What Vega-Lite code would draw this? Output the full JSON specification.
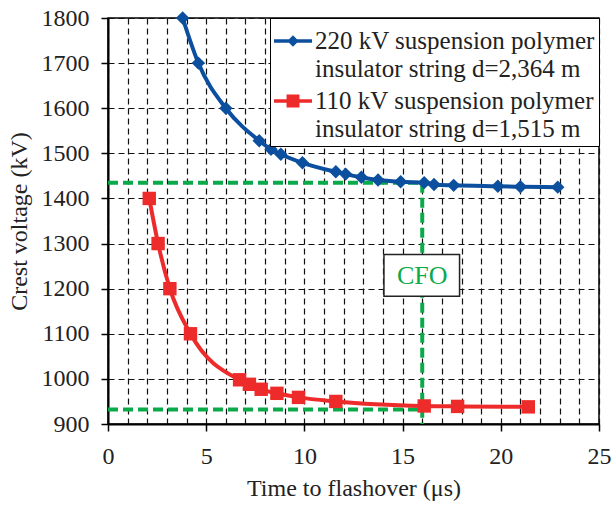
{
  "$schema": "https://vega.github.io/schema/vega-lite/v6.json",
  "width": 491,
  "height": 406,
  "autosize": {"type": "none"},
  "padding": {"left": 108, "top": 18, "right": 15, "bottom": 82},
  "background": "white",
  "config": {
    "font": "Liberation Serif",
    "view": {"stroke": "#000", "strokeWidth": 1.5},
    "axis": {
      "labelFont": "Liberation Serif",
      "titleFont": "Liberation Serif",
      "labelFontSize": 24,
      "titleFontSize": 24,
      "labelColor": "#222",
      "titleColor": "#222",
      "titleFontWeight": "normal",
      "domainColor": "#000",
      "domainWidth": 2,
      "tickColor": "#000",
      "tickWidth": 1.5,
      "tickSize": 7,
      "gridColor": "#111",
      "gridDash": [6, 4],
      "gridWidth": 1.2,
      "gridOpacity": 1,
      "labelOverlap": false
    },
    "legend": {
      "labelFont": "Liberation Serif",
      "labelFontSize": 25,
      "labelColor": "#222",
      "labelLimit": 0
    }
  },
  "datasets": {
    "series": [
      {"t": 3.8, "v": 1800, "s": "220 kV"},
      {"t": 4.6, "v": 1700, "s": "220 kV"},
      {"t": 6.0, "v": 1600, "s": "220 kV"},
      {"t": 7.7, "v": 1528, "s": "220 kV"},
      {"t": 8.3, "v": 1509, "s": "220 kV"},
      {"t": 8.8, "v": 1498, "s": "220 kV"},
      {"t": 9.9, "v": 1479, "s": "220 kV"},
      {"t": 11.6, "v": 1459, "s": "220 kV"},
      {"t": 12.1, "v": 1454, "s": "220 kV"},
      {"t": 12.9, "v": 1447, "s": "220 kV"},
      {"t": 13.75, "v": 1441, "s": "220 kV"},
      {"t": 14.9, "v": 1437, "s": "220 kV"},
      {"t": 16.1, "v": 1435, "s": "220 kV"},
      {"t": 16.6, "v": 1431, "s": "220 kV"},
      {"t": 17.6, "v": 1429, "s": "220 kV"},
      {"t": 19.85, "v": 1427, "s": "220 kV"},
      {"t": 21.0, "v": 1426, "s": "220 kV"},
      {"t": 22.9, "v": 1425, "s": "220 kV"},
      {"t": 2.1, "v": 1400, "s": "110 kV"},
      {"t": 2.55, "v": 1300, "s": "110 kV"},
      {"t": 3.15, "v": 1200, "s": "110 kV"},
      {"t": 4.2, "v": 1100, "s": "110 kV"},
      {"t": 6.7, "v": 998, "s": "110 kV"},
      {"t": 7.2, "v": 988, "s": "110 kV"},
      {"t": 7.8, "v": 977, "s": "110 kV"},
      {"t": 8.6, "v": 968, "s": "110 kV"},
      {"t": 9.7, "v": 959, "s": "110 kV"},
      {"t": 11.6, "v": 950, "s": "110 kV"},
      {"t": 16.1, "v": 940, "s": "110 kV"},
      {"t": 17.8, "v": 939, "s": "110 kV"},
      {"t": 21.4, "v": 938, "s": "110 kV"}
    ],
    "cfo": [
      {"t": 0, "t2": 16, "v": 1435, "v2": 1435},
      {"t": 0, "t2": 16, "v": 932, "v2": 932},
      {"t": 16, "t2": 16, "v": 1435, "v2": 900}
    ],
    "box": [
      {"t": 14.05, "t2": 17.9, "v": 1276, "v2": 1183}
    ],
    "label": [
      {"t": 16, "v": 1229, "txt": "CFO"}
    ]
  },
  "encoding": {
    "x": {
      "field": "t",
      "type": "quantitative",
      "title": "Time to flashover (μs)",
      "scale": {"domain": [0, 25], "nice": false, "zero": false},
      "axis": {
        "values": [0,1,2,3,4,5,6,7,8,9,10,11,12,13,14,15,16,17,18,19,20,21,22,23,24,25],
        "labelExpr": "datum.value % 5 === 0 ? datum.label : ''",
        "tickOpacity": {"expr": "datum.value % 5 === 0 ? 1 : 0"},
        "labelPadding": 13,
        "titlePadding": 8,
        "labelFlush": false,
        "labelOverlap": false,
        "labelBound": false,
        "format": "d"
      }
    },
    "y": {
      "field": "v",
      "type": "quantitative",
      "title": "Crest voltage (kV)",
      "scale": {"domain": [900, 1800], "nice": false, "zero": false},
      "axis": {
        "values": [900,1000,1100,1200,1300,1400,1500,1600,1700,1800],
        "labelPadding": 12,
        "titlePadding": 10,
        "labelFlush": false,
        "labelOverlap": false,
        "format": "d"
      }
    }
  },
  "layer": [
    {
      "data": {"name": "cfo"},
      "mark": {"type": "rule", "color": "#0AAA4A", "strokeWidth": 4, "strokeDash": [10, 5]},
      "encoding": {
        "x2": {"field": "t2"},
        "y2": {"field": "v2"}
      }
    },
    {
      "data": {"name": "box"},
      "mark": {"type": "rect", "fill": "white", "stroke": "#222", "strokeWidth": 1.5},
      "encoding": {
        "x2": {"field": "t2"},
        "y2": {"field": "v2"}
      }
    },
    {
      "data": {"name": "label"},
      "mark": {"type": "text", "color": "#0AAA4A", "fontSize": 26, "font": "Liberation Serif", "align": "center", "baseline": "middle"},
      "encoding": {
        "text": {"field": "txt"}
      }
    },
    {
      "data": {"name": "series"},
      "mark": {"type": "line", "strokeWidth": 4, "interpolate": "monotone"},
      "encoding": {
        "color": {
          "field": "s",
          "type": "nominal",
          "sort": ["220 kV", "110 kV"],
          "scale": {"domain": ["220 kV", "110 kV"], "range": ["#0B4F9E", "#EE2B2B"]},
          "legend": {
            "title": null,
            "orient": "top-right",
            "offset": 0,
            "padding": 4,
            "fillColor": "white",
            "strokeColor": "#000",
            "symbolSize": 1444,
            "labelOffset": 3,
            "rowPadding": 0,
            "labelExpr": "datum.value === '220 kV' ? ['220 kV suspension polymer', 'insulator string d=2,364 m'] : ['110 kV suspension polymer', 'insulator string d=1,515 m']",
            "encode": {
              "symbols": {
                "update": {
                  "shape": {"signal": "datum.value === '220 kV' ? 'M-1,-0.09H1V0.09H-1Z M0,-0.3L0.3,0L0,0.3L-0.3,0Z' : 'M-1,-0.09H1V0.09H-1Z M-0.34,-0.34L0.34,-0.34L0.34,0.34L-0.34,0.34Z'"},
                  "fill": {"scale": "color", "field": "value"},
                  "strokeWidth": {"value": 0},
                  "opacity": {"value": 1},
                  "size": {"value": 1444}
                }
              },
              "labels": {
                "update": {
                  "lineHeight": {"value": 28}
                }
              }
            }
          }
        }
      }
    },
    {
      "data": {"name": "series"},
      "transform": [{"filter": "datum.s === '220 kV'"}],
      "mark": {"type": "point", "filled": true, "opacity": 1, "size": 180, "shape": "diamond"},
      "encoding": {
        "color": {"field": "s", "type": "nominal"}
      }
    },
    {
      "data": {"name": "series"},
      "transform": [{"filter": "datum.s === '110 kV'"}],
      "mark": {"type": "point", "filled": true, "opacity": 1, "size": 180, "shape": "square"},
      "encoding": {
        "color": {"field": "s", "type": "nominal"}
      }
    }
  ]
}
